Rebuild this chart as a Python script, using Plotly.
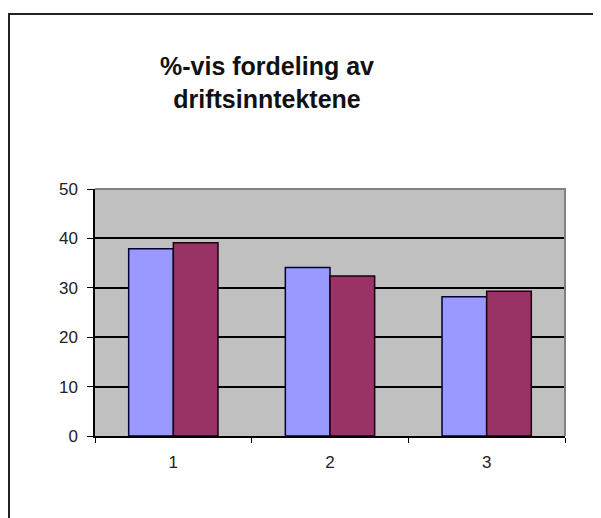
import plotly.graph_objects as go

categories = ["1", "2", "3"]
series_a = [37.9, 34.1, 28.2]
series_b = [39.1, 32.4, 29.3]
y_ticks = [0, 10, 20, 30, 40, 50]
title_text = "%-vis fordeling av<br>driftsinntektene"

OFF = 8  # browser default body margin
W, H = 601 - OFF, 518 - OFF
L, R, T, B = 95 - OFF, 36, 189 - OFF, 82
pw, ph = W - L - R, H - T - B

def px_x(p):
    return (p - OFF - L) / pw

def px_y(p):
    return (H - B - (p - OFF)) / ph

fig = go.Figure()
fig.add_trace(go.Bar(x=categories, y=series_a, marker=dict(color="#9999FF", line=dict(color="#000033", width=1.5))))
fig.add_trace(go.Bar(x=categories, y=series_b, marker=dict(color="#993366", line=dict(color="#1a0010", width=1.5))))

fig.update_layout(
    width=W, height=H,
    margin=dict(l=L, r=R, t=T, b=B),
    paper_bgcolor="white",
    plot_bgcolor="#C0C0C0",
    showlegend=False,
    barmode="group",
    bargap=0.43,
    bargroupgap=0,
    font=dict(family="Liberation Sans, Arial, sans-serif", color="#111111"),
    xaxis=dict(
        type="category",
        showline=True, linecolor="black", linewidth=1.5,
        ticks="outside", tickson="boundaries", ticklen=5, tickcolor="black",
        tickfont=dict(size=17, color="#222222"),
        ticklabelstandoff=10,
        showgrid=False,
    ),
    yaxis=dict(
        range=[0, 50], tickvals=y_ticks,
        showline=True, linecolor="black", linewidth=1.5,
        ticks="outside", ticklen=6, tickcolor="black",
        tickfont=dict(size=17, color="#222222"),
        ticklabelstandoff=6,
        showgrid=True, gridcolor="black", gridwidth=1.5,
        zeroline=False,
    ),
    annotations=[dict(
        text="<b>" + title_text + "</b>",
        xref="paper", yref="paper",
        x=px_x(267), y=px_y(82), xanchor="center", yanchor="middle",
        showarrow=False, align="center",
        font=dict(size=25, family="Liberation Sans, Arial, sans-serif", color="#111111"),
    )],
    shapes=[
        dict(type="path", xref="x domain", yref="y domain",
             path="M 0,1 L 1,1 L 1,0", line=dict(color="#808080", width=2), layer="above"),
        dict(type="rect", xref="paper", yref="paper",
             x0=px_x(9), x1=px_x(599), y0=px_y(540), y1=px_y(14),
             line=dict(color="#222222", width=2), layer="below"),
    ],
)

fig.write_html("out.html")
